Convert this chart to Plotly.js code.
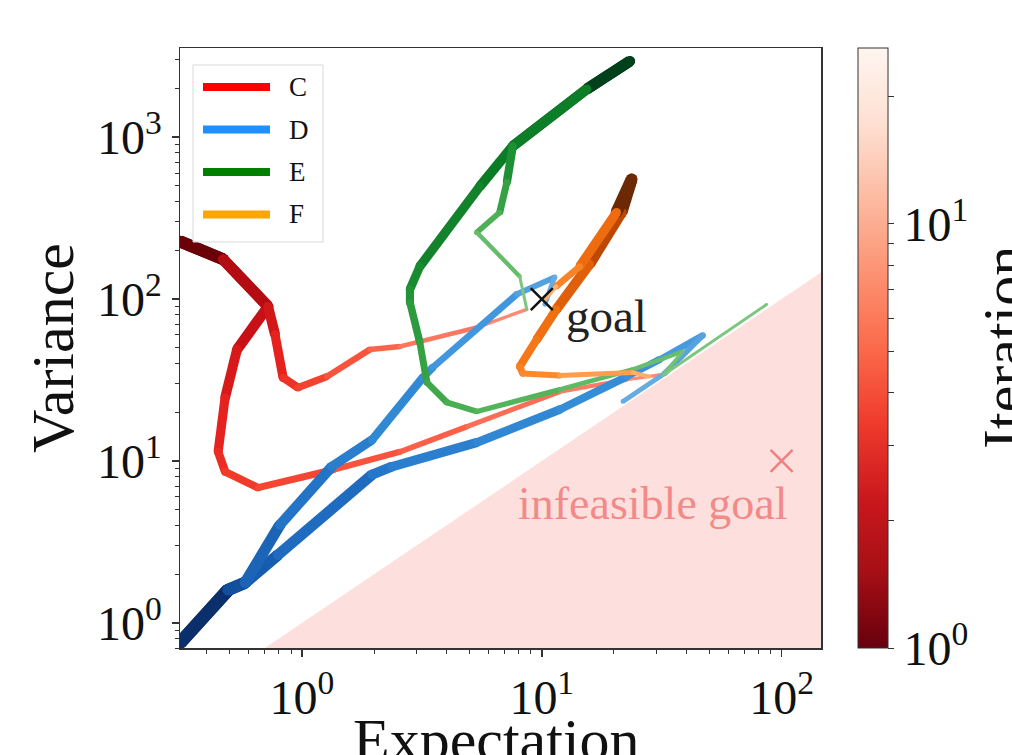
<!DOCTYPE html>
<html><head><meta charset="utf-8">
<script src="https://cdn.plot.ly/plotly-3.0.1.min.js"></script>
<style>body{margin:0;background:#fff}#chart{width:1012px;height:755px}</style>
</head><body><div id="chart"></div>
<script>
// ---- data: (Expectation, Variance) trajectories; each method has a run toward the feasible goal and one toward the infeasible goal
const C_goal_x = [0.310, 0.469, 0.722, 0.772, 0.834, 0.962, 1.27, 1.92, 2.56, 5.36, 8.66];
const C_goal_y = [227, 176, 90, 60.4, 32.7, 28.4, 33.2, 48.8, 50.9, 66.7, 86.3];
const C_inf_x = [0.310, 0.469, 0.722, 0.536, 0.478, 0.447, 0.478, 0.656, 1.35, 2.56, 4.87, 11.9, 22.6, 31.9];
const C_inf_y = [227, 176, 90, 48.8, 24.6, 11.4, 8.59, 6.84, 8.83, 11.4, 16.3, 26.8, 31.8, 34.2];

const D_goal_x = [0.310, 0.492, 0.579, 0.810, 1.33, 1.96, 3.19, 3.51, 7.87, 11.3, 10.3];
const D_goal_y = [0.752, 1.60, 1.77, 4.04, 9.22, 13.5, 32.7, 37.8, 107, 136, 92.6];
const D_inf_x = [0.310, 0.492, 0.579, 0.794, 1.96, 2.37, 5.36, 11.9, 22.6, 31.0, 46.9, 32.5, 21.8];
const D_inf_y = [0.752, 1.60, 1.77, 2.63, 8.23, 9.22, 13.0, 20.8, 33.2, 42.3, 59.6, 34.7, 23.3];

const E_goal_x = [23.3, 15.4, 7.57, 7.15, 6.68, 5.36, 8.09, 8.66];
const E_goal_y = [2946, 1977, 879, 526, 343, 258, 138, 86.3];
const E_inf_x = [23.3, 15.4, 7.57, 5.52, 3.10, 2.82, 2.82, 3.10, 3.32, 4.02, 5.36, 11.9, 23.9, 38.7, 31.9, 86.6];
const E_inf_y = [2946, 1977, 879, 497, 159, 115, 95.3, 53.9, 30.5, 23.0, 20.2, 27.6, 36.7, 47.4, 33.7, 92.6];

const F_goal_x = [23.7, 20.5, 14.4, 11.5, 10.3];
const F_goal_y = [549, 343, 159, 120, 99.5];
const F_inf_x = [23.7, 21.5, 15.8, 11.5, 9.53, 8.09, 8.33, 11.9, 23.9, 28.2];
const F_inf_y = [549, 343, 164, 86.3, 56.3, 38.3, 34.7, 33.7, 35.2, 33.2];

const methodNames = ['C', 'D', 'E', 'F'];
const goal = {x: [10], y: [100]};
const infeasibleGoal = {x: [100], y: [10]};
const boundaryX = [0.1, 1000, 1000];     // infeasible region: Variance < Expectation
const boundaryY = [0.1, 1000, 0.1];
const xTickVals = [1, 10, 100];
const xTickText = ['10<sup>0</sup>', '10<sup>1</sup>', '10<sup>2</sup>'];
const yTickVals = [1, 10, 100, 1000];
const yTickText = ['10<sup>0</sup>', '10<sup>1</sup>', '10<sup>2</sup>', '10<sup>3</sup>'];
const iterMin = 1, iterMax = 26;
const cbTickVals = [1, 10];
const cbTickText = ['10<sup>0</sup>', '10<sup>1</sup>'];

// ---- styles
const FONT = 'Liberation Serif, Times New Roman, serif';
const legendColors = {C: 'red', D: 'dodgerblue', E: 'green', F: 'orange'};
const gradients = {
  C: ['#6a0008', '#c00e14', '#e4201c', '#f23e2c', '#fb6048', '#ff8a74'],
  D: ['#0a2f6a', '#1355a6', '#2272c6', '#2f86d2', '#3d94dc', '#66ace2'],
  E: ['#00401a', '#0a7a25', '#1c8e32', '#3aa446', '#5ab860', '#7cc67e'],
  F: ['#6b2a05', '#c24a04', '#ee6a0e', '#f57a18', '#fb8a30', '#fdb070']
};
const widths = {C: [12, 3.5], D: [13, 5], E: [11, 3], F: [12, 4]};

// plot area in pixels (for legend/label placement)
const PL = 180, PR = 821, PT = 48, PB = 648;
const px2x = px => (px - PL) / (PR - PL);
const py2y = py => (PB - py) / (PB - PT);

function hex2rgb(h) { return [1, 3, 5].map(i => parseInt(h.substr(i, 2), 16)); }
function interpColor(stops, t) {
  const n = stops.length - 1;
  const p = Math.min(n - 1e-9, Math.max(0, t * n));
  const i = Math.floor(p), f = p - i;
  const a = hex2rgb(stops[i]), b = hex2rgb(stops[i + 1]);
  const c = a.map((v, k) => Math.round(v + (b[k] - v) * f));
  return 'rgb(' + c.join(',') + ')';
}

const traces = [];
// infeasible region
traces.push({x: boundaryX, y: boundaryY, mode: 'lines', fill: 'toself',
  fillcolor: '#fde0dd', line: {width: 0, color: 'rgba(0,0,0,0)'}, hoverinfo: 'skip', showlegend: false});

function addTrajectory(name, xs, ys) {
  const n = xs.length - 1;
  for (let i = 0; i < n; i++) {
    const t = n > 1 ? Math.pow(i / (n - 1), 0.8) : 0;
    const col = interpColor(gradients[name], t);
    const w = widths[name][0] + (widths[name][1] - widths[name][0]) * (n > 1 ? i / (n - 1) : 0);
    traces.push({x: [xs[i], xs[i + 1]], y: [ys[i], ys[i + 1]], mode: 'lines+markers',
      line: {color: col, width: w}, marker: {color: col, size: w * 0.95, line: {width: 0}},
      hoverinfo: 'skip', showlegend: false});
  }
}
const runs = [
  ['C', C_inf_x, C_inf_y], ['C', C_goal_x, C_goal_y],
  ['D', D_inf_x, D_inf_y], ['D', D_goal_x, D_goal_y],
  ['E', E_inf_x, E_inf_y], ['E', E_goal_x, E_goal_y],
  ['F', F_inf_x, F_inf_y], ['F', F_goal_x, F_goal_y]
];
runs.forEach(r => addTrajectory(r[0], r[1], r[2]));

// goals
traces.push({x: goal.x, y: goal.y, mode: 'markers', marker: {symbol: 'x-thin', size: 22, line: {width: 2.5, color: '#111'}},
  hoverinfo: 'skip', showlegend: false});
traces.push({x: infeasibleGoal.x, y: infeasibleGoal.y, mode: 'markers', marker: {symbol: 'x-thin', size: 22, line: {width: 2.5, color: '#f08080'}},
  hoverinfo: 'skip', showlegend: false});

// colorbar (log-scaled iteration)
const redsR = [[0, '#67000d'], [0.125, '#a50f15'], [0.25, '#cb181d'], [0.375, '#ef3b2c'], [0.5, '#fb6a4a'],
  [0.625, '#fc9272'], [0.75, '#fcbba1'], [0.875, '#fee0d2'], [1, '#fff5f0']];
const cbAll = [], cbText = [];
for (let d = 1; d < iterMax; d *= 10) {
  for (let k = 1; k <= 9; k++) {
    const v = k * d;
    if (v > iterMax) break;
    cbAll.push(Math.log10(v));
    const idx = cbTickVals.indexOf(v);
    cbText.push(idx >= 0 ? cbTickText[idx] : '');
  }
}
traces.push({x: [null, null], y: [null, null], mode: 'markers', showlegend: false, hoverinfo: 'skip',
  marker: {color: [Math.log10(iterMin), Math.log10(iterMax)], cmin: Math.log10(iterMin), cmax: Math.log10(iterMax),
    colorscale: redsR, showscale: true,
    colorbar: {x: 1.058, xanchor: 'left', xpad: 0, ypad: 0, y: 0.5, yanchor: 'middle', lenmode: 'pixels', len: 600,
      thickness: 30, outlinewidth: 1, outlinecolor: '#333', tickmode: 'array', tickvals: cbAll, ticktext: cbText,
      ticks: 'outside', ticklen: 6, tickcolor: '#333', tickfont: {family: FONT, size: 48, color: '#111'}}}});

function minorVals(lo, hi) {
  const v = [];
  for (let d = lo; d <= hi; d *= 10) for (let k = 2; k <= 9; k++) v.push(k * d);
  return v;
}

const axisCommon = {type: 'log', showgrid: false, zeroline: false, showline: true, linecolor: '#333', linewidth: 1.5,
  mirror: true, ticks: 'outside', ticklen: 7, tickwidth: 1.5, tickcolor: '#333', tickmode: 'array',
  tickfont: {family: FONT, size: 48, color: '#111'}};

// custom legend (matplotlib-like long handles)
const legendTop = 65, legendStep = 42.5, legendFirst = 87;
const shapes = [{type: 'rect', xref: 'paper', yref: 'paper', x0: px2x(193), x1: px2x(323), y0: py2y(242), y1: py2y(legendTop),
  line: {color: '#d9d9d9', width: 1}, fillcolor: 'rgba(255,255,255,0.85)', layer: 'above'}];
const annotations = [];
methodNames.forEach((m, k) => {
  const py = legendFirst + k * legendStep;
  shapes.push({type: 'line', xref: 'paper', yref: 'paper', x0: px2x(203), x1: px2x(270), y0: py2y(py), y1: py2y(py),
    line: {color: legendColors[m], width: 8}, layer: 'above'});
  annotations.push({xref: 'paper', yref: 'paper', x: px2x(287), y: py2y(py), text: m, showarrow: false,
    xanchor: 'left', yanchor: 'middle', font: {family: FONT, size: 27, color: '#111'}});
});
annotations.push(
  {x: Math.log10(goal.x[0]), y: Math.log10(goal.y[0]), xref: 'x', yref: 'y', text: 'goal', showarrow: false,
    xanchor: 'left', yanchor: 'middle', xshift: 22, yshift: -17, font: {family: FONT, size: 47, color: '#222'}},
  {x: Math.log10(infeasibleGoal.x[0]), y: Math.log10(infeasibleGoal.y[0]), xref: 'x', yref: 'y', text: 'infeasible goal', showarrow: false,
    xanchor: 'right', yanchor: 'middle', xshift: 8, yshift: -43, font: {family: FONT, size: 46, color: '#f28a8a'}},
  {xref: 'paper', yref: 'paper', x: px2x(1004), y: 0.5, text: 'Iteration', textangle: -90, showarrow: false,
    xanchor: 'center', yanchor: 'middle', font: {family: FONT, size: 60, color: '#111'}},
  {xref: 'paper', yref: 'paper', x: px2x(496), y: py2y(705), text: 'Expectation', showarrow: false,
    xanchor: 'center', yanchor: 'top', font: {family: FONT, size: 60, color: '#111'}}
);

const layout = {
  width: 1012, height: 755, margin: {l: PL, r: 1012 - PR, t: PT, b: 755 - PB},
  paper_bgcolor: '#fff', plot_bgcolor: '#fff', showlegend: false,
  xaxis: Object.assign({}, axisCommon, {range: [Math.log10(0.31), Math.log10(146)], tickvals: xTickVals, ticktext: xTickText,
    minor: {tickmode: 'array', tickvals: minorVals(0.1, 100), ticks: 'outside', ticklen: 4, tickwidth: 1, tickcolor: '#333', showgrid: false}}),
  yaxis: Object.assign({}, axisCommon, {range: [Math.log10(0.70), Math.log10(3550)], tickvals: yTickVals, ticktext: yTickText,
    minor: {tickmode: 'array', tickvals: minorVals(0.1, 1000), ticks: 'outside', ticklen: 4, tickwidth: 1, tickcolor: '#333', showgrid: false},
    title: {text: 'Variance', font: {family: FONT, size: 60, color: '#111'}, standoff: 4}}),
  shapes: shapes,
  annotations: annotations
};

Plotly.newPlot('chart', traces, layout, {displayModeBar: false, staticPlot: true});
</script></body></html>
